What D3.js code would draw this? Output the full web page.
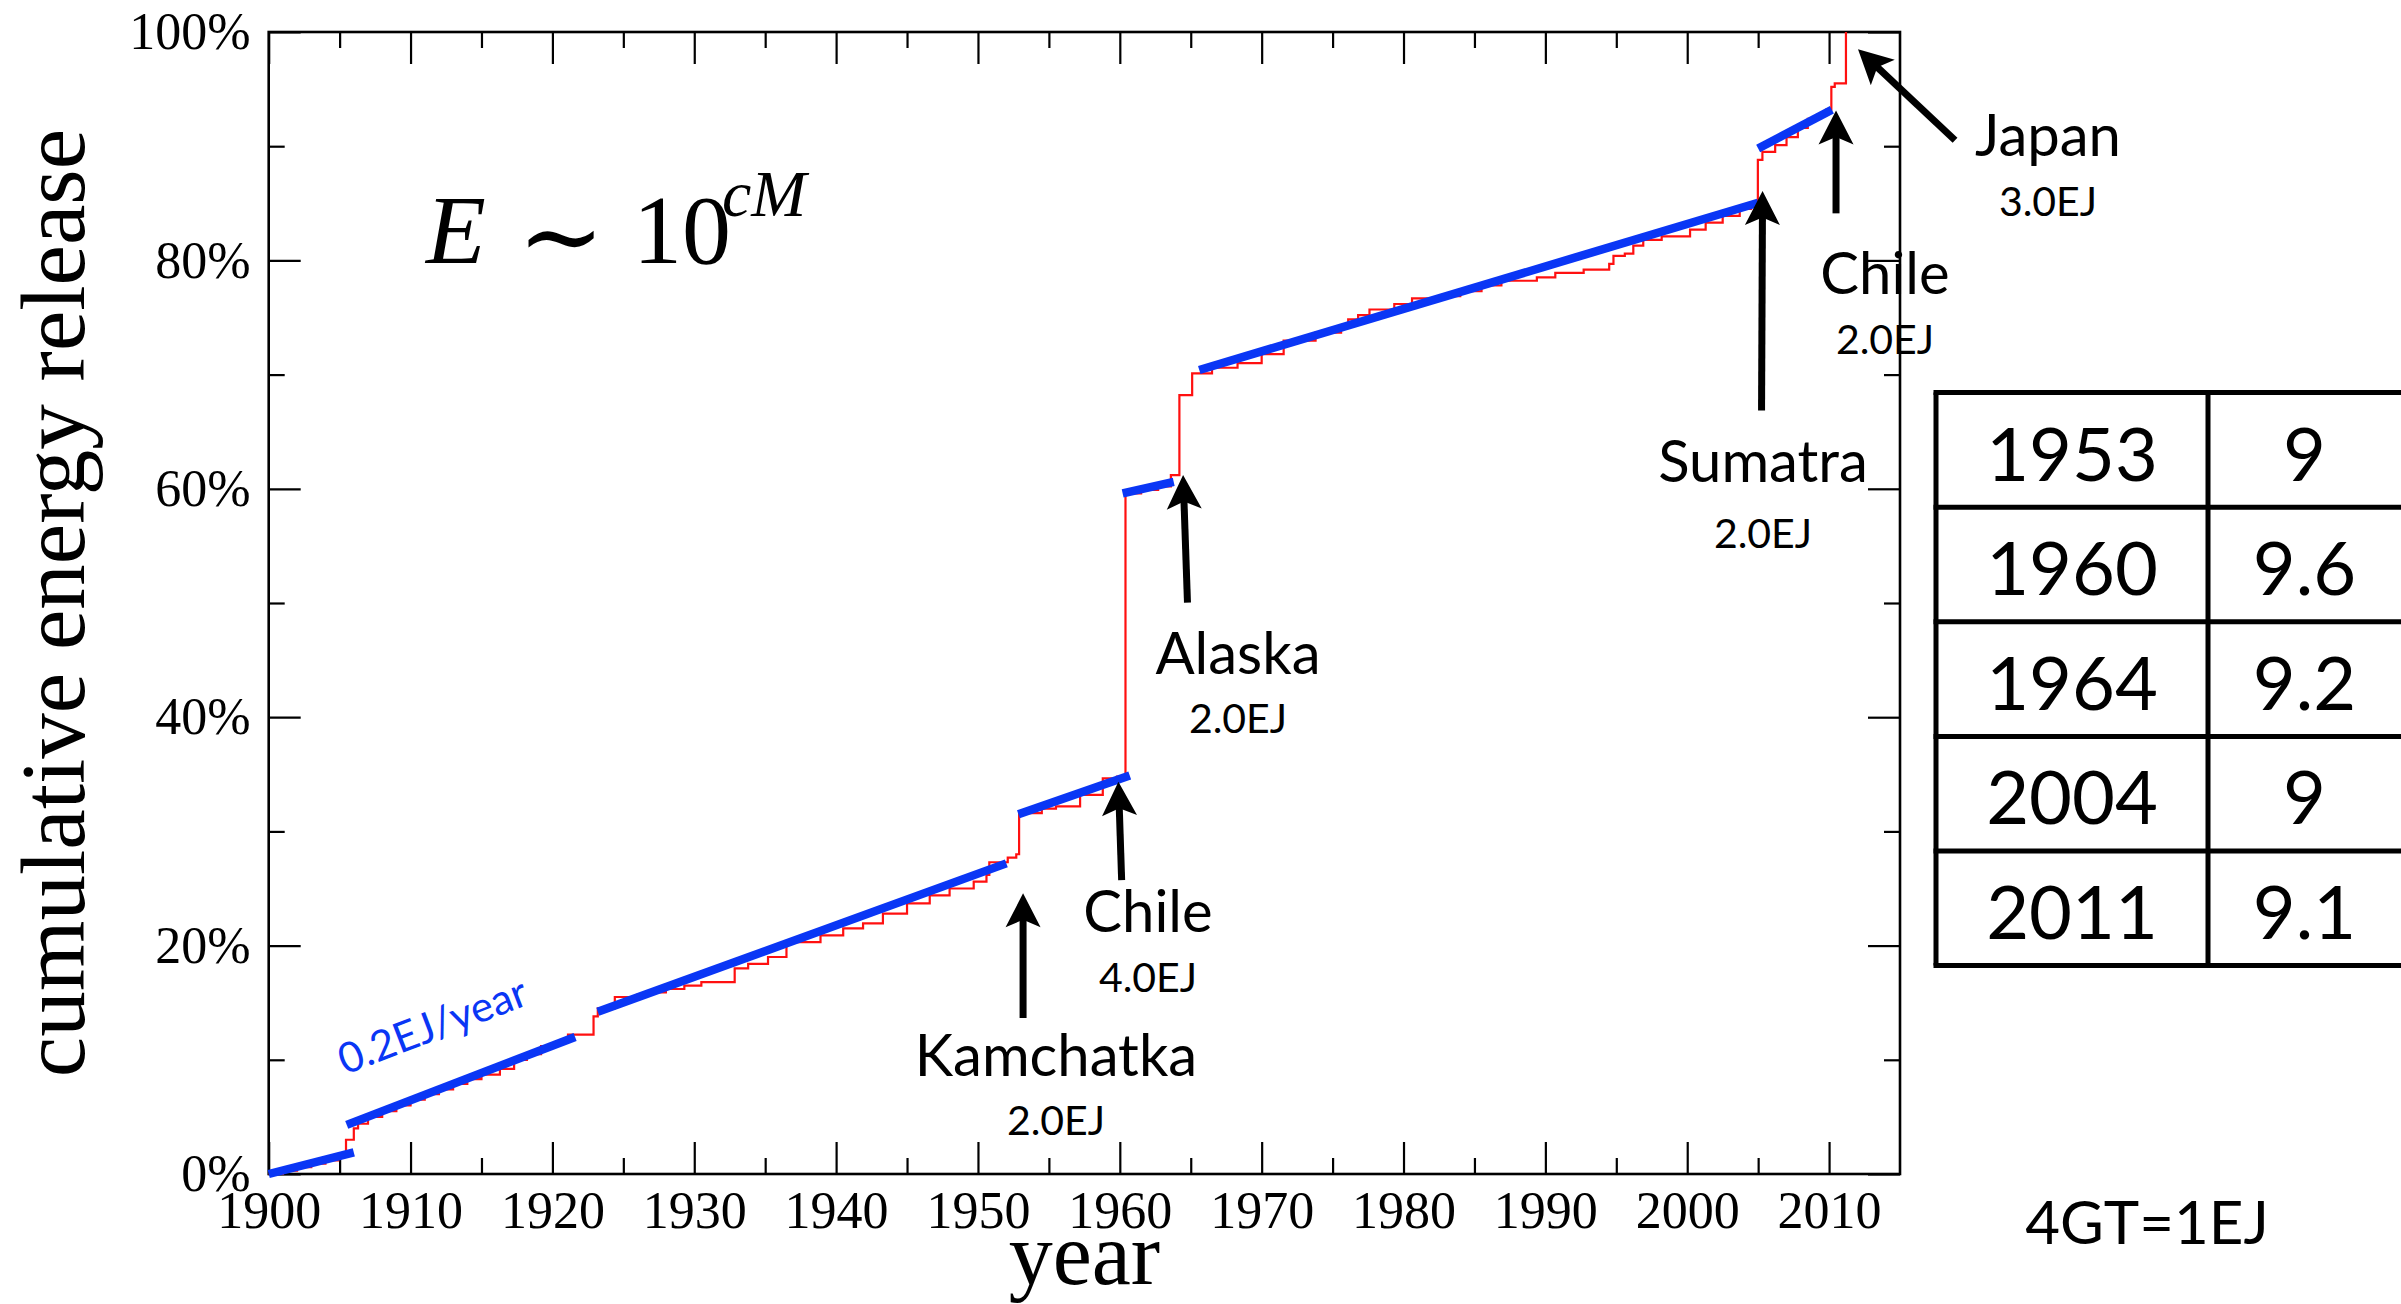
<!DOCTYPE html>
<html>
<head>
<meta charset="utf-8">
<script src="https://cdn.jsdelivr.net/npm/d3@7"></script>
<style>
  html, body { margin: 0; padding: 0; background: #fff; }
  svg { display: block; }
</style>
</head>
<body>
<svg id="chart" width="2401" height="1304"></svg>
<script>
// Cumulative global seismic energy release since 1900, in percent of the total.
// Each point: the year an event occurs and the running total after it (step curve).
const stepYears = [
  1900.0, 1901.0, 1902.0, 1903.0, 1904.0, 1904.9, 1905.45, 1906.0, 1906.3, 1907.0,
  1908.0, 1909.0, 1910.0, 1911.0, 1912.0, 1913.0, 1914.0, 1915.0, 1916.3, 1917.3,
  1918.2, 1919.2, 1920.3, 1921.1, 1922.9, 1923.2, 1924.4, 1926.0, 1927.0, 1928.0,
  1929.3, 1930.5, 1932.85, 1933.8, 1935.2, 1936.5, 1938.9, 1940.5, 1941.9, 1943.3,
  1945.0, 1946.6, 1948.0, 1949.7, 1950.6, 1950.8, 1952.1, 1952.7, 1952.9, 1954.5,
  1955.5, 1957.2, 1958.8, 1959.8, 1960.4, 1961.5, 1962.7, 1963.6, 1964.2, 1965.1,
  1966.5, 1968.3, 1970.0, 1971.55, 1973.8, 1975.6, 1976.1, 1976.8, 1977.6, 1979.35,
  1980.6, 1982.4, 1984.0, 1985.5, 1986.9, 1989.4, 1990.7, 1992.7, 1994.5, 1994.8,
  1995.6, 1996.2, 1996.9, 1998.2, 2000.2, 2001.3, 2002.5, 2003.7, 2004.5, 2004.98,
  2005.3, 2006.2, 2007.0, 2007.8, 2008.5, 2009.2, 2009.8, 2010.16, 2010.4, 2011.19
];
const stepPercent = [
  0, 0.3, 0.6, 0.9, 1.2, 1.6, 3.0, 4.0, 4.4, 5.0,
  5.5, 6.0, 6.5, 7.0, 7.4, 7.9, 8.3, 8.7, 9.2, 10.0,
  10.5, 11.2, 11.6, 12.2, 13.8, 14.5, 15.5, 15.7, 15.9, 16.2,
  16.5, 16.8, 18.0, 18.4, 19.0, 20.3, 20.9, 21.5, 21.95, 22.8,
  23.7, 24.4, 25.0, 25.6, 26.2, 27.3, 27.7, 28.0, 31.6, 32.0,
  32.2, 33.2, 34.65, 34.8, 59.6, 59.9, 60.2, 61.2, 68.2, 70.1,
  70.6, 71.0, 71.8, 72.97, 73.67, 74.34, 74.84, 75.2, 75.7, 76.18,
  76.68, 76.88, 77.3, 77.8, 78.22, 78.52, 78.9, 79.2, 79.7, 80.4,
  80.6, 81.3, 81.8, 82.1, 82.7, 83.3, 83.9, 84.5, 85.0, 88.8,
  89.5, 90.1, 90.8, 91.6, 92.4, 92.7, 93.2, 95.2, 95.5, 100
];

// Linear background-rate fits between the great earthquakes (start / end of each segment).
const fitStartYear = [1900.0, 1905.5, 1923.2, 1952.85, 1960.2, 1965.6, 2005.0];
const fitStartPct  = [0.0,    4.3,    14.2,   31.5,    59.6,   70.4,   89.8];
const fitEndYear   = [1906.0, 1921.6, 1952.0, 1960.7,  1963.8, 2005.0, 2010.2];
const fitEndPct    = [1.9,    12.0,   27.2,   34.9,    60.6,   85.05,  93.2];

// Great earthquakes called out on the curve.
const quakeNames  = ["Kamchatka", "Chile", "Alaska", "Sumatra", "Chile", "Japan"];
const quakeEnergy = ["2.0EJ", "4.0EJ", "2.0EJ", "2.0EJ", "2.0EJ", "3.0EJ"];
// Arrow tip and tail, in (year, percent).
const arrowTipYear  = [1953.18, 1959.9, 1964.46, 2005.31, 2010.49, 2012.04];
const arrowTipPct   = [24.58, 34.35, 61.2, 86.08, 93.13, 98.5];
const arrowTailYear = [1953.18, 1960.13, 1964.77, 2005.24, 2010.49, 2018.88];
const arrowTailPct  = [13.66, 25.74, 50.03, 66.86, 84.12, 90.52];

// Magnitude table.
const tableYears      = ["1953", "1960", "1964", "2004", "2011"];
const tableMagnitudes = ["9", "9.6", "9.2", "9", "9.1"];

// Axis ticks.
const xMajorTicks = [1900, 1910, 1920, 1930, 1940, 1950, 1960, 1970, 1980, 1990, 2000, 2010];
const xMinorTicks = [1905, 1915, 1925, 1935, 1945, 1955, 1965, 1975, 1985, 1995, 2005];
const yMajorTicks = [0, 20, 40, 60, 80, 100];
const yMinorTicks = [10, 30, 50, 70, 90];

// ---------------------------------------------------------------------------
const W = 2401, H = 1304;
const plot = { left: 268.7, right: 1900, top: 32, bottom: 1174 };
const BLUE = "#0a36f5";
const RED = "#ff1010";
const SERIF = "'Liberation Serif', 'Times New Roman', serif";
const SANS = "Lato, 'Open Sans', sans-serif";

const svg = d3.select("#chart");
svg.append("rect").attr("width", W).attr("height", H).attr("fill", "#fff");

const x = d3.scaleLinear().domain([1900, 2015]).range([plot.left, plot.right]);
const y = d3.scaleLinear().domain([0, 100]).range([plot.bottom, plot.top]);

// --- axes: ticks point inward on all four sides ---
function styleAxis(g) {
  g.select(".domain").remove();
  g.selectAll(".tick line").attr("stroke", "#000").attr("stroke-width", 2.2);
  g.selectAll(".tick text")
    .attr("fill", "#000")
    .attr("font-family", SERIF)
    .attr("font-size", 52);
}

const MAJ = 32, MIN = 16;

svg.append("g").attr("transform", `translate(0,${plot.bottom})`)
  .call(d3.axisBottom(x).tickValues(xMajorTicks).tickFormat(d3.format("d"))
    .tickSize(-MAJ).tickPadding(17))
  .call(styleAxis);
svg.append("g").attr("transform", `translate(0,${plot.bottom})`)
  .call(d3.axisBottom(x).tickValues(xMinorTicks).tickFormat("").tickSize(-MIN))
  .call(styleAxis);
svg.append("g").attr("transform", `translate(0,${plot.top})`)
  .call(d3.axisTop(x).tickValues(xMajorTicks).tickFormat("").tickSize(-MAJ))
  .call(styleAxis);
svg.append("g").attr("transform", `translate(0,${plot.top})`)
  .call(d3.axisTop(x).tickValues(xMinorTicks).tickFormat("").tickSize(-MIN))
  .call(styleAxis);

svg.append("g").attr("transform", `translate(${plot.left},0)`)
  .call(d3.axisLeft(y).tickValues(yMajorTicks).tickFormat(d => d + "%")
    .tickSize(-MAJ).tickPadding(18))
  .call(styleAxis);
svg.append("g").attr("transform", `translate(${plot.left},0)`)
  .call(d3.axisLeft(y).tickValues(yMinorTicks).tickFormat("").tickSize(-MIN))
  .call(styleAxis);
svg.append("g").attr("transform", `translate(${plot.right},0)`)
  .call(d3.axisRight(y).tickValues(yMajorTicks).tickFormat("").tickSize(-MAJ))
  .call(styleAxis);
svg.append("g").attr("transform", `translate(${plot.right},0)`)
  .call(d3.axisRight(y).tickValues(yMinorTicks).tickFormat("").tickSize(-MIN))
  .call(styleAxis);

// frame
svg.append("rect")
  .attr("x", plot.left).attr("y", plot.top)
  .attr("width", plot.right - plot.left).attr("height", plot.bottom - plot.top)
  .attr("fill", "none").attr("stroke", "#000").attr("stroke-width", 2.6);

// axis titles
svg.append("text")
  .attr("transform", `translate(84,${(plot.top + plot.bottom) / 2}) rotate(-90)`)
  .attr("text-anchor", "middle")
  .attr("font-family", SERIF).attr("font-size", 91)
  .text("cumulative energy release");
svg.append("text")
  .attr("x", (plot.left + plot.right) / 2).attr("y", 1284)
  .attr("text-anchor", "middle")
  .attr("font-family", SERIF).attr("font-size", 88)
  .text("year");

// --- cumulative energy (red step curve) ---
const steps = stepYears.map((yr, i) => [yr, stepPercent[i]]);
svg.append("path")
  .datum(steps)
  .attr("fill", "none")
  .attr("stroke", RED)
  .attr("stroke-width", 2.2)
  .attr("d", d3.line().x(d => x(d[0])).y(d => y(d[1])).curve(d3.curveStepAfter));

// --- linear fits (thick blue) ---
const fits = fitStartYear.map((yr, i) => [[yr, fitStartPct[i]], [fitEndYear[i], fitEndPct[i]]]);
svg.append("g").selectAll("path")
  .data(fits)
  .join("path")
  .attr("fill", "none")
  .attr("stroke", BLUE)
  .attr("stroke-width", 8.5)
  .attr("stroke-linecap", "butt")
  .attr("d", d3.line().x(d => x(d[0])).y(d => y(d[1])));

// rate label along the early fit
svg.append("text")
  .attr("transform", "translate(345,1075) rotate(-21)")
  .attr("font-family", SANS).attr("font-size", 42)
  .attr("fill", BLUE)
  .text("0.2EJ/year");

// formula
const formula = svg.append("g").attr("font-family", SERIF).attr("fill", "#000");
formula.append("text").attr("x", 426).attr("y", 263)
  .attr("font-size", 98).attr("font-style", "italic").text("E");
formula.append("text").attr("x", 561).attr("y", 272)
  .attr("font-size", 104).attr("text-anchor", "middle")
  .attr("font-family", "'DejaVu Serif', serif").text("\u223C");
formula.append("text").attr("x", 633).attr("y", 263)
  .attr("font-size", 98).text("10");
formula.append("text").attr("x", 722).attr("y", 216)
  .attr("font-size", 66).attr("font-style", "italic").text("cM");

// --- arrows and callouts ---
function arrowPath(x0, y0, x1, y1) {
  const L = 34, hw = 17.5;
  const dx = x1 - x0, dy = y1 - y0, len = Math.hypot(dx, dy);
  const ux = dx / len, uy = dy / len, nx = -uy, ny = ux;
  const bx = x1 - L * ux, by = y1 - L * uy;
  const cx = x1 - 0.78 * L * ux, cy = y1 - 0.78 * L * uy;
  return {
    shaft: [[x0, y0], [cx + 2 * ux, cy + 2 * uy]],
    head: `M${x1},${y1}L${bx + hw * nx},${by + hw * ny}L${cx},${cy}L${bx - hw * nx},${by - hw * ny}Z`
  };
}

// callout text positions (name centre x, name baseline, energy baseline), in px
const calloutLayout = [
  { cx: 1056, nameY: 1076, energyY: 1135 },
  { cx: 1148, nameY: 932, energyY: 992 },
  { cx: 1238, nameY: 674, energyY: 733 },
  { cx: 1763, nameY: 482, energyY: 548 },
  { cx: 1885, nameY: 294, energyY: 354 },
  { cx: 2048, nameY: 156, energyY: 216 }
];

const callouts = svg.append("g");
quakeNames.forEach((name, i) => {
  const a = arrowPath(x(arrowTailYear[i]), y(arrowTailPct[i]), x(arrowTipYear[i]), y(arrowTipPct[i]));
  callouts.append("path")
    .attr("d", d3.line()(a.shaft))
    .attr("stroke", "#000").attr("stroke-width", 7).attr("fill", "none");
  callouts.append("path").attr("d", a.head).attr("fill", "#000");

  const L = calloutLayout[i];
  callouts.append("text")
    .attr("x", L.cx).attr("y", L.nameY).attr("text-anchor", "middle")
    .attr("font-family", SANS).attr("font-size", 58)
    .text(name);
  callouts.append("text")
    .attr("x", L.cx).attr("y", L.energyY).attr("text-anchor", "middle")
    .attr("font-family", SANS).attr("font-size", 41)
    .text(quakeEnergy[i]);
});

// --- magnitude table ---
const table = { left: 1936, mid: 2208, right: 2401, top: 392.6, rowH: 114.6 };
const tg = svg.append("g");
const nRows = tableYears.length;
d3.range(nRows + 1).forEach(r => {
  tg.append("line")
    .attr("x1", table.left - 2.5).attr("x2", table.right + 10)
    .attr("y1", table.top + r * table.rowH).attr("y2", table.top + r * table.rowH)
    .attr("stroke", "#000").attr("stroke-width", 5);
});
[table.left, table.mid].forEach(cx => {
  tg.append("line")
    .attr("x1", cx).attr("x2", cx)
    .attr("y1", table.top).attr("y2", table.top + nRows * table.rowH)
    .attr("stroke", "#000").attr("stroke-width", 5);
});
tableYears.forEach((yr, r) => {
  const base = table.top + r * table.rowH + 88;
  tg.append("text")
    .attr("x", (table.left + table.mid) / 2).attr("y", base)
    .attr("text-anchor", "middle")
    .attr("font-family", SANS).attr("font-size", 74)
    .text(yr);
  tg.append("text")
    .attr("x", (table.mid + table.right) / 2).attr("y", base)
    .attr("text-anchor", "middle")
    .attr("font-family", SANS).attr("font-size", 74)
    .text(tableMagnitudes[r]);
});

svg.append("text")
  .attr("x", 2147).attr("y", 1244).attr("text-anchor", "middle")
  .attr("font-family", SANS).attr("font-size", 60)
  .text("4GT=1EJ");
</script>
</body>
</html>
